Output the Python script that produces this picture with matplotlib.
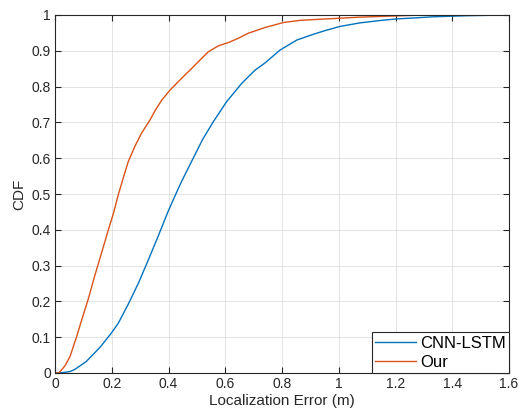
import matplotlib
matplotlib.use("Agg")
import matplotlib.pyplot as plt
import numpy as np

# CDF curves
cnn_x = [0.0, 0.024, 0.053, 0.07, 0.11, 0.159, 0.2, 0.223, 0.258, 0.294, 0.329, 0.364,
         0.399, 0.423, 0.446, 0.487, 0.52, 0.558, 0.605, 0.658, 0.705, 0.740, 0.793,
         0.852, 0.910, 0.95, 1.004, 1.075, 1.15, 1.204, 1.27, 1.333, 1.451, 1.52, 1.6]
cnn_y = [0.0, 0.001, 0.004, 0.010, 0.032, 0.072, 0.113, 0.139, 0.192, 0.251, 0.316, 0.383,
         0.452, 0.495, 0.535, 0.600, 0.652, 0.702, 0.758, 0.809, 0.846, 0.866, 0.902,
         0.930, 0.946, 0.956, 0.968, 0.978, 0.985, 0.989, 0.992, 0.995, 0.998, 0.999, 1.0]
our_x = [0.0, 0.012, 0.018, 0.035, 0.053, 0.076, 0.094, 0.117, 0.141, 0.165, 0.188,
         0.206, 0.223, 0.241, 0.258, 0.282, 0.305, 0.335, 0.352, 0.376, 0.405, 0.446,
         0.482, 0.517, 0.540, 0.576, 0.611, 0.646, 0.681, 0.740, 0.805, 0.863, 0.93,
         1.004, 1.075, 1.15, 1.22, 1.30, 1.6]
our_y = [0.0, 0.0, 0.004, 0.02, 0.046, 0.101, 0.148, 0.206, 0.274, 0.338, 0.400,
         0.446, 0.498, 0.546, 0.590, 0.634, 0.670, 0.707, 0.732, 0.762, 0.790, 0.823,
         0.851, 0.879, 0.897, 0.914, 0.923, 0.935, 0.949, 0.965, 0.979, 0.985, 0.988,
         0.991, 0.994, 0.996, 0.998, 1.0, 1.0]

labels = ["CNN-LSTM", "Our"]
colors = ["#0072BD", "#D95319"]

plt.rcParams['font.family'] = ['Liberation Sans', 'DejaVu Sans']
fig = plt.figure(figsize=(5.2, 4.16), dpi=100)
ax = fig.add_axes([55 / 520, 1 - 373 / 416, 454 / 520, 358 / 416])

ax.plot(cnn_x, cnn_y, color=colors[0], lw=1.0, label=labels[0])
ax.plot(our_x, our_y, color=colors[1], lw=1.0, label=labels[1])

ax.set_xlim(0, 1.6)
ax.set_ylim(0, 1)
ax.set_xticks(np.arange(0, 1.61, 0.2))
ax.set_xticklabels(["0", "0.2", "0.4", "0.6", "0.8", "1", "1.2", "1.4", "1.6"])
ax.set_yticks(np.arange(0, 1.01, 0.1))
ax.set_yticklabels(["0", "0.1", "0.2", "0.3", "0.4", "0.5", "0.6", "0.7", "0.8", "0.9", "1"])
ax.tick_params(direction="in", top=True, right=True, length=4, width=0.8,
               labelsize=10, colors="#262626", pad=3)
ax.grid(True, color="#dedede", lw=0.6)
ax.set_axisbelow(True)
for s in ax.spines.values():
    s.set_color("#262626")
    s.set_linewidth(0.8)

ax.set_xlabel("Localization Error (m)", fontsize=11, color="#262626", labelpad=2)
ax.set_ylabel("CDF", fontsize=11, color="#262626", labelpad=4)

leg = ax.legend(loc="lower right", fontsize=12, fancybox=False, framealpha=1,
                edgecolor="#262626", borderaxespad=0, handlelength=2.45,
                handletextpad=0.25, borderpad=0.2, labelspacing=0.25)
leg.get_frame().set_linewidth(0.8)

fig.savefig("out.png", dpi=100)
